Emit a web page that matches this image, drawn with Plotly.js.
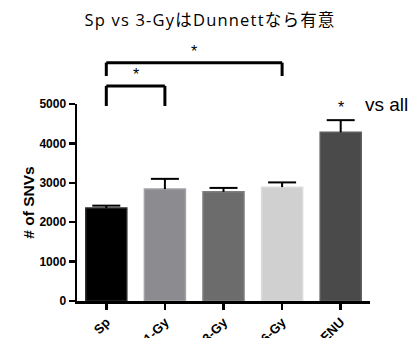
<!DOCTYPE html>
<html><head><meta charset="utf-8">
<script src="https://cdn.plot.ly/plotly-3.0.1.min.js"></script>
<style>html,body{margin:0;padding:0;background:#fff}#chart{width:420px;height:338px}.gtitle{letter-spacing:1.2px}</style>
</head><body><div id="chart"></div>
<script>
const categories = ['Sp', '1-Gy', '3-Gy', '6-Gy', 'ENU'];
const snvCounts = [2360, 2840, 2770, 2890, 4280];
const snvErrors = [60, 260, 100, 120, 310];
const barColors = ['#000000', '#8c8c90', '#6c6c6c', '#d0d0d0', '#4a4a4a'];
const barEdges = ['#2a2a2a', '#a2a2a6', '#7e7e7e', '#dcdcdc', '#5c5c5c'];
const yTicks = [0, 1000, 2000, 3000, 4000, 5000];
// significance comparisons: category indices and bracket heights in data units
const comparisons = [
  {from: 0, to: 3, top: 6050, bottom: 5710},
  {from: 0, to: 1, top: 5460, bottom: 4950}
];
const yMax = 5000;

const toPaper = v => v / yMax;
const shapes = [];
const annotations = [];
comparisons.forEach(c => {
  const line = {color: '#000', width: 3};
  shapes.push({type: 'line', xref: 'x', yref: 'paper', x0: c.from, x1: c.to, y0: toPaper(c.top), y1: toPaper(c.top), line});
  shapes.push({type: 'line', xref: 'x', yref: 'paper', x0: c.from, x1: c.from, y0: toPaper(c.top), y1: toPaper(c.bottom), line});
  shapes.push({type: 'line', xref: 'x', yref: 'paper', x0: c.to, x1: c.to, y0: toPaper(c.top), y1: toPaper(c.bottom), line});
  annotations.push({xref: 'x', yref: 'paper', x: (c.from + c.to) / 2, y: toPaper(c.top), yanchor: 'bottom', yshift: 1,
    text: '*', showarrow: false, font: {family: 'Arial', size: 16, color: '#000'}});
});
annotations.push({xref: 'x', yref: 'paper', x: 4, y: toPaper(snvCounts[4] + snvErrors[4]), yanchor: 'bottom', yshift: 2,
  text: '*', showarrow: false, font: {family: 'Arial', size: 16, color: '#000'}});
annotations.push({xref: 'paper', yref: 'paper', x: 1.0, xanchor: 'left', xshift: -7, y: 1.0, yanchor: 'middle',
  text: 'vs all', showarrow: false, font: {family: 'Liberation Sans, Arial', size: 19, color: '#000'}});

const bars = {
  type: 'bar', x: categories, y: snvCounts, width: 0.7,
  marker: {color: barColors, line: {color: barEdges, width: 1.5}},
  error_y: {type: 'data', symmetric: false, array: snvErrors, arrayminus: snvErrors.map(() => 0),
    color: '#000', thickness: 2, width: 0}
};
const caps = {
  type: 'scatter', mode: 'markers', x: categories, y: snvCounts.map((v, i) => v + snvErrors[i]),
  cliponaxis: false, hoverinfo: 'skip',
  marker: {symbol: 'line-ew', size: 20, color: '#000', line: {color: '#000', width: 2}}
};

const layout = {
  width: 420, height: 338,
  margin: {l: 77, r: 50, t: 104, b: 37},
  paper_bgcolor: '#fff', plot_bgcolor: '#fff',
  showlegend: false,
  title: {text: 'Sp vs 3-GyはDunnettなら有意', x: 0.5, xref: 'container', xanchor: 'center', y: 0.941, yanchor: 'middle', yref: 'container',
    font: {family: 'Open Sans, Noto Sans CJK JP', size: 16.5, color: '#000'}},
  xaxis: {
    range: [-0.5, 4.5], showline: true, linecolor: '#000', linewidth: 2.5,
    ticks: 'outside', ticklen: 6, tickwidth: 2.5, tickcolor: '#000', tickangle: -45,
    tickfont: {family: 'Liberation Sans, Arial', size: 13, color: '#000', weight: 'bold'},
    showgrid: false, zeroline: false, fixedrange: true
  },
  yaxis: {
    range: [0, yMax], tickvals: yTicks, ticktext: yTicks.map(String),
    showline: true, linecolor: '#000', linewidth: 2.5,
    ticks: 'outside', ticklen: 6, tickwidth: 2.5, tickcolor: '#000',
    tickfont: {family: 'Liberation Sans, Arial', size: 12, color: '#000', weight: 'bold'},
    showgrid: false, zeroline: false, fixedrange: true,
    title: {text: '# of SNVs', standoff: 1, font: {family: 'Liberation Sans, Arial', size: 15.5, color: '#000', weight: 'bold'}}
  },
  shapes, annotations
};
Plotly.newPlot('chart', [bars, caps], layout, {displayModeBar: false, staticPlot: true});
</script></body></html>
